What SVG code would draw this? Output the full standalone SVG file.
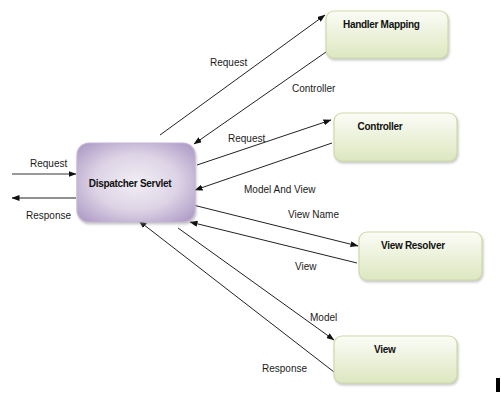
<svg xmlns="http://www.w3.org/2000/svg" width="501" height="419" viewBox="0 0 501 419">
<style>
.lbl{font-family:"Liberation Sans",Arial,sans-serif;font-size:10px;fill:#1a1a1a}
.title{font-family:"Liberation Sans",Arial,sans-serif;font-size:10px;font-weight:bold;fill:#111;letter-spacing:-0.3px}
.con{stroke:#222;stroke-width:1;fill:none;marker-end:url(#ah)}
.green{fill:url(#gg);stroke:#cddba8;stroke-width:1.2;filter:url(#sh)}
</style>
<defs>
<marker id="ah" markerWidth="8" markerHeight="6" refX="7.5" refY="3" orient="auto" markerUnits="userSpaceOnUse">
<path d="M0,0 L8,3 L0,6 Z" fill="#111"/>
</marker>
<linearGradient id="gg" x1="0" y1="0" x2="0" y2="1">
<stop offset="0" stop-color="#fbfcf6"/>
<stop offset="1" stop-color="#dde7c0"/>
</linearGradient>
<radialGradient id="pg" cx="0.5" cy="0.5" r="0.7">
<stop offset="0" stop-color="#f1eef4"/>
<stop offset="0.5" stop-color="#ddd4e6"/>
<stop offset="1" stop-color="#a994c2"/>
</radialGradient>
<filter id="sh" x="-10%" y="-10%" width="125%" height="135%">
<feDropShadow dx="1" dy="2" stdDeviation="1.2" flood-color="#888" flood-opacity="0.45"/>
</filter>
</defs>

<g id="connectors">
<line x1="12" y1="174" x2="76" y2="174" stroke="#777" stroke-width="1.5" marker-end="url(#ah)"/>
<line class="con" x1="76" y1="198" x2="12" y2="198"/>
<line class="con" x1="160" y1="135" x2="325" y2="15"/>
<line class="con" x1="326" y1="52" x2="194" y2="144"/>
<line class="con" x1="197" y1="165" x2="331" y2="120"/>
<line class="con" x1="332" y1="143" x2="195" y2="190"/>
<line class="con" x1="193" y1="205" x2="358" y2="246"/>
<line class="con" x1="357" y1="263" x2="190" y2="222"/>
<line class="con" x1="178" y1="228" x2="334" y2="340"/>
<line class="con" x1="334" y1="372" x2="139" y2="221"/>
</g>

<g id="labels">
<text class="lbl" x="30" y="167">Request</text>
<text class="lbl" x="26" y="219">Response</text>
<text class="lbl" x="210" y="66">Request</text>
<text class="lbl" x="292" y="92">Controller</text>
<text class="lbl" x="228" y="142">Request</text>
<text class="lbl" x="244" y="193">Model And View</text>
<text class="lbl" x="288" y="218">View Name</text>
<text class="lbl" x="295" y="270">View</text>
<text class="lbl" x="310" y="321">Model</text>
<text class="lbl" x="262" y="372">Response</text>
</g>

<g id="dispatcher">
<rect x="77" y="143" width="118" height="79" rx="12" fill="url(#pg)" stroke="#c3b4d5" stroke-width="1.2" filter="url(#sh)"/>
<text class="title" x="130" y="187" text-anchor="middle">Dispatcher Servlet</text>
</g>

<g id="handler-mapping">
<rect class="green" x="326" y="11" width="122" height="47" rx="8"/>
<text class="title" x="343" y="28">Handler Mapping</text>
</g>

<g id="controller">
<rect class="green" x="334" y="113" width="123" height="48" rx="8"/>
<text class="title" x="380" y="130" text-anchor="middle">Controller</text>
</g>

<g id="view-resolver">
<rect class="green" x="359" y="232" width="123" height="48" rx="8"/>
<text class="title" x="381" y="249">View Resolver</text>
</g>

<g id="view">
<rect class="green" x="334" y="336" width="123" height="47" rx="8"/>
<text class="title" x="374" y="353">View</text>
</g>

<rect x="496" y="378" width="4" height="14" fill="#000"/>
</svg>
